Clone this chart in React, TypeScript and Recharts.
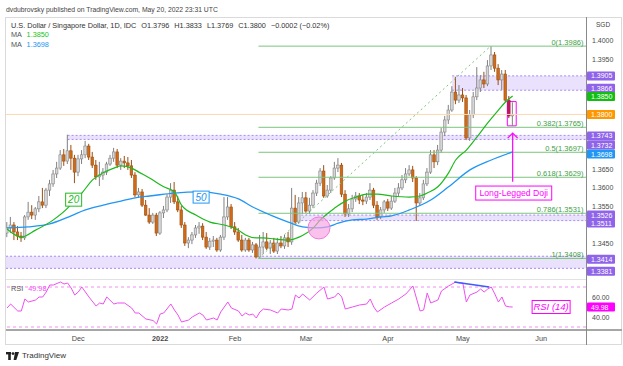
import React from "react";
import { ComposedChart, Bar, Line, XAxis, YAxis, ReferenceLine, ReferenceArea, ReferenceDot } from "recharts";

const FONT = "'Liberation Sans', Arial, sans-serif";

// daily candles, Nov 3 2021 .. May 20 2022: [open, high, low, close]
const candles: number[][] = [
  [1.3477, 1.3507, 1.3466, 1.3491], [1.3491, 1.3521, 1.3477, 1.3499], [1.3499, 1.3507, 1.3458, 1.348],
  [1.348, 1.3496, 1.3458, 1.3469], [1.3469, 1.348, 1.3453, 1.3464], [1.3464, 1.3526, 1.3458, 1.3521],
  [1.3521, 1.3562, 1.3513, 1.3534], [1.3534, 1.3553, 1.3515, 1.3526], [1.3526, 1.3548, 1.3513, 1.3543],
  [1.3543, 1.3578, 1.3534, 1.3562], [1.3562, 1.36, 1.3545, 1.3553], [1.3553, 1.36, 1.3545, 1.3594],
  [1.3594, 1.3622, 1.3578, 1.3611], [1.3611, 1.3649, 1.3603, 1.3638], [1.3638, 1.3671, 1.3627, 1.3654],
  [1.3654, 1.3703, 1.3649, 1.369], [1.369, 1.3706, 1.366, 1.3673], [1.3673, 1.3745, 1.3665, 1.3701],
  [1.3701, 1.3717, 1.3649, 1.3681], [1.3681, 1.369, 1.3613, 1.3643], [1.3643, 1.369, 1.3632, 1.3679],
  [1.3679, 1.3703, 1.3665, 1.369], [1.369, 1.3728, 1.3681, 1.3714], [1.3714, 1.372, 1.3676, 1.3684],
  [1.3684, 1.3698, 1.3654, 1.3662], [1.3662, 1.3676, 1.3622, 1.363], [1.363, 1.3671, 1.3605, 1.3635],
  [1.3635, 1.3654, 1.3622, 1.3643], [1.3643, 1.3671, 1.3635, 1.3665], [1.3665, 1.369, 1.366, 1.3681],
  [1.3681, 1.3709, 1.3671, 1.3698], [1.3698, 1.3706, 1.3654, 1.3662], [1.3662, 1.3681, 1.3649, 1.3673],
  [1.3673, 1.3687, 1.3654, 1.3668], [1.3668, 1.3684, 1.3649, 1.366], [1.366, 1.3676, 1.3627, 1.3635],
  [1.3635, 1.3643, 1.3575, 1.3581], [1.3581, 1.36, 1.3573, 1.3589], [1.3589, 1.3597, 1.3548, 1.3553],
  [1.3553, 1.3567, 1.3524, 1.3526], [1.3526, 1.3545, 1.3502, 1.3507], [1.3507, 1.3532, 1.3502, 1.3526],
  [1.3526, 1.3532, 1.3469, 1.3477], [1.3477, 1.3537, 1.3472, 1.3532], [1.3532, 1.3551, 1.3518, 1.354],
  [1.354, 1.3583, 1.3534, 1.3575], [1.3575, 1.3613, 1.3559, 1.3594], [1.3594, 1.3616, 1.3556, 1.3562],
  [1.3562, 1.3578, 1.3534, 1.354], [1.354, 1.3551, 1.3491, 1.3499], [1.3499, 1.3507, 1.3442, 1.345],
  [1.345, 1.3466, 1.3436, 1.3458], [1.3458, 1.348, 1.3447, 1.3472], [1.3472, 1.3499, 1.3464, 1.3491],
  [1.3491, 1.3507, 1.3475, 1.3496], [1.3496, 1.3504, 1.3458, 1.3466], [1.3466, 1.348, 1.3434, 1.3439],
  [1.3439, 1.3464, 1.3431, 1.3455], [1.3455, 1.3469, 1.3439, 1.3458], [1.3458, 1.3464, 1.3426, 1.3431],
  [1.3431, 1.3472, 1.3426, 1.3466], [1.3466, 1.3575, 1.3458, 1.3521], [1.3521, 1.3575, 1.3513, 1.3548],
  [1.3548, 1.3556, 1.3488, 1.3494], [1.3494, 1.3507, 1.3472, 1.348], [1.348, 1.3491, 1.3453, 1.3458],
  [1.3458, 1.3472, 1.3426, 1.3431], [1.3431, 1.3464, 1.3426, 1.3458], [1.3458, 1.3464, 1.3426, 1.3431],
  [1.3431, 1.3453, 1.3423, 1.3445], [1.3445, 1.345, 1.3408, 1.3412], [1.3412, 1.3472, 1.3409, 1.3439],
  [1.3439, 1.348, 1.342, 1.3453], [1.3453, 1.3477, 1.3431, 1.3436], [1.3436, 1.3458, 1.342, 1.345],
  [1.345, 1.3464, 1.3423, 1.3428], [1.3428, 1.3464, 1.342, 1.345], [1.345, 1.3469, 1.3436, 1.3442],
  [1.3442, 1.3472, 1.3434, 1.3464], [1.3464, 1.348, 1.3439, 1.3453], [1.3453, 1.36, 1.3445, 1.3545],
  [1.3545, 1.3581, 1.3502, 1.3507], [1.3507, 1.3575, 1.3502, 1.3559], [1.3559, 1.3589, 1.3529, 1.3573],
  [1.3573, 1.3589, 1.3532, 1.3537], [1.3537, 1.3573, 1.3529, 1.3553], [1.3553, 1.3594, 1.3545, 1.3586],
  [1.3586, 1.3622, 1.3578, 1.3613], [1.3613, 1.3654, 1.3605, 1.3646], [1.3646, 1.3662, 1.3573, 1.3578],
  [1.3578, 1.3608, 1.3573, 1.3594], [1.3594, 1.3632, 1.3586, 1.3627], [1.3627, 1.3671, 1.3622, 1.3654],
  [1.3654, 1.3681, 1.3643, 1.3662], [1.3662, 1.3668, 1.3575, 1.3583], [1.3583, 1.3594, 1.3521, 1.3529],
  [1.3529, 1.3556, 1.3521, 1.3543], [1.3543, 1.3581, 1.3534, 1.357], [1.357, 1.3589, 1.3562, 1.3578],
  [1.3578, 1.3586, 1.3556, 1.3567], [1.3567, 1.3581, 1.3553, 1.3564], [1.3564, 1.3586, 1.3556, 1.3575],
  [1.3575, 1.3613, 1.3567, 1.3594], [1.3594, 1.36, 1.3545, 1.3553], [1.3553, 1.3564, 1.3513, 1.3521],
  [1.3521, 1.3548, 1.3515, 1.354], [1.354, 1.3567, 1.3532, 1.3562], [1.3562, 1.357, 1.3537, 1.3545],
  [1.3545, 1.3578, 1.354, 1.3564], [1.3564, 1.36, 1.3559, 1.3586], [1.3586, 1.3613, 1.3578, 1.36],
  [1.36, 1.3635, 1.3594, 1.3622], [1.3622, 1.3654, 1.3613, 1.3638], [1.3638, 1.3662, 1.3632, 1.3649],
  [1.3649, 1.366, 1.3616, 1.3627], [1.3627, 1.3632, 1.351, 1.3559], [1.3559, 1.3586, 1.3551, 1.3573],
  [1.3573, 1.3622, 1.3567, 1.3611], [1.3611, 1.3654, 1.3605, 1.3643], [1.3643, 1.3703, 1.3638, 1.369],
  [1.369, 1.3703, 1.3654, 1.3671], [1.3671, 1.3717, 1.3662, 1.3703], [1.3703, 1.3763, 1.3695, 1.3752],
  [1.3752, 1.3796, 1.3741, 1.3785], [1.3785, 1.3826, 1.3774, 1.3812], [1.3812, 1.3877, 1.3807, 1.3861],
  [1.3861, 1.3902, 1.3828, 1.3839], [1.3839, 1.388, 1.3831, 1.3853], [1.3853, 1.3872, 1.3834, 1.3845],
  [1.3845, 1.3853, 1.373, 1.3736], [1.3736, 1.3812, 1.3728, 1.3799], [1.3799, 1.3861, 1.379, 1.3848],
  [1.3848, 1.3929, 1.3839, 1.3872], [1.3872, 1.3907, 1.3861, 1.3894], [1.3894, 1.3916, 1.3872, 1.3883],
  [1.3883, 1.3948, 1.3877, 1.3932], [1.3932, 1.3986, 1.3921, 1.3962], [1.3962, 1.397, 1.3916, 1.3926],
  [1.3926, 1.3937, 1.388, 1.3894], [1.3894, 1.3921, 1.3867, 1.391], [1.391, 1.3921, 1.3834, 1.3839],
  [1.3839, 1.385, 1.379, 1.3796], [1.3796, 1.3833, 1.3769, 1.38],
];

// [bar index, value]
const ma20Pts = [
  [0, 1.3488], [4, 1.3466], [8, 1.3485], [13, 1.3513], [17, 1.3545], [19, 1.3567], [21, 1.3586], [24, 1.3622],
  [27, 1.3641], [30, 1.3654], [32, 1.366], [35, 1.3654], [37, 1.3643], [40, 1.3627], [44, 1.3603], [47, 1.3589],
  [49, 1.3553], [53, 1.3526], [57, 1.3507], [61, 1.3499], [65, 1.3485], [67, 1.3472], [70, 1.3464], [72, 1.3464],
  [75, 1.3461], [79, 1.3458], [82, 1.3466], [86, 1.3491], [88, 1.3513], [92, 1.3545], [95, 1.3564], [98, 1.3575],
  [101, 1.3583], [104, 1.3583], [108, 1.3578], [113, 1.3575], [116, 1.3578], [118, 1.3586], [121, 1.3603],
  [124, 1.3641], [126, 1.3676], [129, 1.3703], [132, 1.3739], [135, 1.3777], [138, 1.3812], [140, 1.3834], [142, 1.385],
];
const ma50Pts = [
  [0, 1.3491], [6, 1.3494], [12, 1.3502], [18, 1.3524], [22, 1.354], [27, 1.3553], [32, 1.3564], [37, 1.3575],
  [40, 1.3578], [47, 1.3586], [54, 1.3589], [60, 1.3583], [65, 1.357], [69, 1.3548], [74, 1.3526], [79, 1.3507],
  [83, 1.3494], [87, 1.3491], [90, 1.3494], [93, 1.3504], [97, 1.3513], [101, 1.3515], [105, 1.3521], [108, 1.3524],
  [113, 1.354], [119, 1.3567], [124, 1.3603], [130, 1.3649], [136, 1.3676], [142, 1.3698],
];
const rsiPts = [
  [0, 49], [1, 53], [3, 46], [4, 46], [5, 58], [6, 55], [8, 57], [9, 60], [10, 60], [11, 65], [12, 72], [13, 72],
  [15, 75], [16, 73], [17, 74], [18, 69], [19, 62], [20, 65], [21, 70], [23, 60], [25, 51], [26, 54], [27, 53],
  [28, 60], [30, 53], [31, 54], [33, 54], [35, 49], [36, 44], [37, 44], [39, 38], [41, 36.5], [42, 33], [43, 43],
  [44, 44], [46, 53], [47, 47], [48, 42], [49, 35], [51, 37], [52, 40], [54, 44], [55, 42], [56, 37], [58, 39],
  [59, 37], [60, 45], [62, 55], [63, 49], [65, 46], [66, 41], [67, 44], [68, 42], [69, 43], [70, 39], [71, 45],
  [72, 48], [74, 47], [76, 44], [77, 48], [79, 47], [80, 48], [81, 62], [82, 59], [83, 63], [85, 57], [87, 64],
  [89, 70], [90, 58], [92, 60], [93, 64], [94, 60], [95, 48], [97, 50], [99, 52], [101, 53], [102, 58], [103, 50],
  [104, 45], [106, 50], [108, 54], [110, 58], [112, 63], [114, 71], [116, 46], [117, 47], [118, 64], [119, 54],
  [121, 57], [122, 66], [124, 71], [126, 75], [127, 74], [128, 74], [129, 55], [130, 62], [132, 65], [133, 68],
  [134, 65], [135, 68], [136, 70], [137, 63], [138, 55], [139, 60], [140, 51], [141, 50.2], [142, 49.98],
];

const monthTicks = [20, 43, 64, 84, 107, 128, 150];
const monthLabels = ["Dec", "2022", "Feb", "Mar", "Apr", "May", "Jun"];
const priceTicks = [1.34, 1.345, 1.35, 1.355, 1.36, 1.365, 1.37, 1.375, 1.38, 1.385, 1.39, 1.395, 1.4];
const hiddenTicks = [1.34, 1.35, 1.37, 1.375, 1.38, 1.385, 1.39];

const fibRatios = ["0", "0.382", "0.5", "0.618", "0.786", "1"];
const fibPrices = [1.3986, 1.3765, 1.3697, 1.3629, 1.3531, 1.3408];

const X_DOMAIN: [number, number] = [-0.3, 162.6];
const X_END = 162.6;

const data = candles.map(([o, h, l, c], i) => ({
  i, o, h, l, c, range: [l, h], ma20: null as number | null, ma50: null as number | null, rsi: null as number | null,
}));
ma20Pts.forEach(([i, v]) => (data[i].ma20 = v));
ma50Pts.forEach(([i, v]) => (data[i].ma50 = v));
rsiPts.forEach(([i, v]) => (data[i].rsi = v));

const PURPLE = "#8f63ea";

function Candle(props: any) {
  const { x, y, width, height, payload } = props;
  if (!payload || x == null) return <g />;
  const { o, h, l, c } = payload;
  const top = Math.min(y, y + height);
  const hh = Math.abs(height);
  const span = h - l || 1;
  const py = (v: number) => top + ((h - v) / span) * hh;
  const cx = x + width / 2;
  const up = c >= o;
  const special = payload.i === 141;
  const body = special ? "#c2185b" : up ? "#d6d6d6" : "#d06a17";
  const edge = special ? "#a0124a" : up ? "#858585" : "#9c4f10";
  const yo = py(o), yc = py(c);
  return (
    <g>
      <line x1={cx} x2={cx} y1={top} y2={top + hh} stroke={up ? "#808080" : edge} strokeWidth={1} />
      <rect x={cx - 1.3} y={Math.min(yo, yc)} width={2.6} height={Math.max(Math.abs(yc - yo), 0.8)} fill={body} stroke={edge} strokeWidth={0.6} />
    </g>
  );
}

function Zone(p: any) {
  const { x, y, width, height } = p;
  return (
    <g>
      <rect x={x} y={y} width={width} height={height} fill="#e6dcfb" fillOpacity={0.85} />
      <line x1={x} x2={x + width} y1={y} y2={y} stroke="#a88cf0" strokeDasharray="2 2" />
      <line x1={x} x2={x + width} y1={y + height} y2={y + height} stroke="#a88cf0" strokeDasharray="2 2" />
    </g>
  );
}

function PriceTick(props: any) {
  const { x, y, payload } = props;
  if (hiddenTicks.some((t) => Math.abs(t - payload.value) < 1e-7)) return <g />;
  return (
    <text x={x} y={y} dy={2.5} fontSize={7} fill="#4a4a4a" fontFamily={FONT}>
      {payload.value.toFixed(4)}
    </text>
  );
}

function RsiTick(props: any) {
  const { x, y, payload } = props;
  return (
    <text x={x} y={y} dy={2.5} fontSize={7} fill="#4a4a4a" fontFamily={FONT}>
      {payload.value.toFixed(2)}
    </text>
  );
}

function TimeTick(props: any) {
  const { x, y, payload } = props;
  const label = monthLabels[monthTicks.indexOf(payload.value)];
  return (
    <text x={x} y={y + 5} textAnchor="middle" fontSize={7.3} fill="#4a4a4a" fontWeight={label === "2022" ? 700 : 400} fontFamily={FONT}>
      {label}
    </text>
  );
}

const axisTag = (text: string, bg: string, dy = 0) => (p: any) => (
  <g>
    <rect x={p.cx + 1} y={p.cy + dy - 4.5} width={28} height={9} rx={1} fill={bg} />
    <text x={p.cx + 5} y={p.cy + dy + 2.6} fontSize={7} fill="#fff" fontFamily={FONT}>{text}</text>
  </g>
);

const fibLabel = (text: string) => (p: any) => (
  <text x={p.cx - 2.5} y={p.cy - 1.5} textAnchor="end" fontSize={7.5} fill="#43a047" fontFamily={FONT}>{text}</text>
);

const maBadge = (text: string, color: string, w: number, h: number) => (p: any) => (
  <g>
    <rect x={p.cx - w / 2} y={p.cy - h / 2} width={w} height={h} fill="#fff" stroke={color} strokeWidth={1} />
    <text x={p.cx} y={p.cy + 3.6} textAnchor="middle" fontSize={10} fontStyle="italic" fill={color} fontFamily={FONT}>{text}</text>
  </g>
);

const textBox = (text: string, w: number, h: number, italic: boolean, size: number) => (p: any) => (
  <g>
    <rect x={p.cx - w / 2} y={p.cy - h / 2} width={w} height={h} fill="#fff" stroke="#f0f" strokeWidth={1} />
    <text x={p.cx} y={p.cy + size * 0.36} textAnchor="middle" fontSize={size} fontStyle={italic ? "italic" : "normal"} fill="#f0f" fontFamily={FONT}>{text}</text>
  </g>
);

function Arrow(p: any) {
  const { x1, y1, x2, y2 } = p;
  return (
    <g stroke="#f0f" strokeWidth={1.2} fill="none">
      <line x1={x1} y1={y1} x2={x2} y2={y2} />
      <polyline points={`${x2 - 5},${y2 + 5} ${x2},${y2} ${x2 + 5},${y2 + 5}`} />
    </g>
  );
}

export default function App() {
  return (
    <div style={{ position: "absolute", left: 0, top: 0, width: 623, height: 366, background: "#fff", overflow: "hidden", fontFamily: FONT }}>
      <div style={{ position: "absolute", left: 6, top: 4.5, fontSize: 6.8, lineHeight: "9px", color: "#444", whiteSpace: "nowrap" }}>
        dvdubrovsky published on TradingView.com, May 20, 2022 23:31 UTC
      </div>

      <div style={{ position: "absolute", left: 0, top: 17 }}>
        <ComposedChart width={623} height={262} data={data} margin={{ top: 0, right: 5, bottom: 0, left: 6 }}>
          <XAxis type="number" dataKey="i" domain={X_DOMAIN} allowDataOverflow hide />
          <YAxis orientation="right" domain={[1.3352, 1.40653]} allowDataOverflow ticks={priceTicks} width={32}
            axisLine={false} tickLine={false} tickSize={4} tick={<PriceTick />} interval={0} />

          <ReferenceLine y={1.38} stroke="#fcd9b0" strokeWidth={1} />
          <ReferenceArea x1={X_DOMAIN[0]} x2={X_END} y1={1.3381} y2={1.3414} shape={<Zone />} />
          <ReferenceArea x1={81.5} x2={X_END} y1={1.3511} y2={1.3526} shape={<Zone />} />
          <ReferenceArea x1={17} x2={X_END} y1={1.3732} y2={1.3743} shape={<Zone />} />
          <ReferenceArea x1={125} x2={X_END} y1={1.3866} y2={1.3905} shape={<Zone />} />

          {fibPrices.map((p) => (
            <ReferenceLine key={p} segment={[{ x: 70.6, y: p }, { x: X_END, y: p }]} stroke="#7cc47f" strokeWidth={1} />
          ))}
          <ReferenceLine segment={[{ x: 70.6, y: 1.3408 }, { x: 135.8, y: 1.3986 }]} stroke="#7cc47f" strokeDasharray="2 3" />

          <Bar dataKey="range" barSize={3} shape={<Candle />} isAnimationActive={false} />
          <Line dataKey="ma50" type="monotone" stroke="#2196f3" strokeWidth={1.3} dot={false} connectNulls isAnimationActive={false} />
          <Line dataKey="ma20" type="monotone" stroke="#1db91d" strokeWidth={1.2} dot={false} connectNulls isAnimationActive={false} />

          <ReferenceDot x={87.6} y={1.3491} r={11} fill="#f9a0e4" fillOpacity={0.65} stroke="#ee7fd8" strokeWidth={1} />
          <ReferenceDot x={18.7} y={1.3568} r={1} shape={maBadge("20", "#22bb22", 16, 13)} />
          <ReferenceDot x={54.5} y={1.3575} r={1} shape={maBadge("50", "#2196f3", 16, 12)} />

          <ReferenceArea x1={140.5} x2={143} y1={1.3769} y2={1.3835} fill="none" stroke="#f0f" strokeWidth={1} />
          <ReferenceLine segment={[{ x: 142, y: 1.3617 }, { x: 142, y: 1.3749 }]} shape={<Arrow />} />
          <ReferenceDot x={142.3} y={1.3586} r={1} shape={textBox("Long-Legged Doji", 76, 14, false, 8.7)} />

          {fibPrices.map((p, k) => (
            <ReferenceDot key={"l" + p} x={X_END} y={p} r={1} shape={fibLabel(`${fibRatios[k]}(${p.toFixed(4)})`)} />
          ))}

          <ReferenceDot x={X_END} y={1.3905} r={1} shape={axisTag("1.3905", PURPLE)} />
          <ReferenceDot x={X_END} y={1.3866} r={1} shape={axisTag("1.3866", PURPLE, -2)} />
          <ReferenceDot x={X_END} y={1.385} r={1} shape={axisTag("1.3850", "#13be13", 0.5)} />
          <ReferenceDot x={X_END} y={1.38} r={1} shape={axisTag("1.3800", "#ff9800")} />
          <ReferenceDot x={X_END} y={1.3743} r={1} shape={axisTag("1.3743", PURPLE, 0.5)} />
          <ReferenceDot x={X_END} y={1.3732} r={1} shape={axisTag("1.3732", PURPLE, 5.5)} />
          <ReferenceDot x={X_END} y={1.3698} r={1} shape={axisTag("1.3698", "#2196f3", 2)} />
          <ReferenceDot x={X_END} y={1.3526} r={1} shape={axisTag("1.3526", PURPLE)} />
          <ReferenceDot x={X_END} y={1.3511} r={1} shape={axisTag("1.3511", PURPLE, 2.5)} />
          <ReferenceDot x={X_END} y={1.3414} r={1} shape={axisTag("1.3414", PURPLE, 3)} />
          <ReferenceDot x={X_END} y={1.3381} r={1} shape={axisTag("1.3381", PURPLE, 3)} />
        </ComposedChart>
      </div>

      <div style={{ position: "absolute", left: 0, top: 280 }}>
        <ComposedChart width={623} height={65} data={data} margin={{ top: 0, right: 5, bottom: 0, left: 6 }}>
          <XAxis type="number" dataKey="i" domain={X_DOMAIN} allowDataOverflow ticks={monthTicks} interval={0} height={15}
            axisLine={false} tickLine={false} tickSize={4} tick={<TimeTick />} />
          <YAxis orientation="right" domain={[27, 77]} allowDataOverflow ticks={[40, 60]} width={32}
            axisLine={false} tickLine={false} tickSize={4} tick={<RsiTick />} interval={0} />
          <ReferenceLine y={70} stroke="#f08ff0" strokeDasharray="3 3" />
          <ReferenceLine y={30} stroke="#f08ff0" strokeDasharray="3 3" />
          <Line dataKey="rsi" type="linear" stroke="#f04ff0" strokeWidth={1} dot={false} connectNulls isAnimationActive={false} />
          <ReferenceLine segment={[{ x: 125.6, y: 75 }, { x: 135.4, y: 70 }]} stroke="#3d5afe" strokeWidth={1.3} />
          <ReferenceDot x={152.8} y={50} r={1} shape={textBox("RSI (14)", 38, 13, true, 9.5)} />
          <ReferenceDot x={X_END} y={49.98} r={1} shape={axisTag("49.98", "#f0f")} />
        </ComposedChart>
      </div>

      {/* frame and pane separators */}
      <div style={{ position: "absolute", left: 5, top: 17, width: 617, height: 328, border: "1px solid #dadada", boxSizing: "border-box" }} />
      <div style={{ position: "absolute", left: 6, top: 279, width: 580, height: 1, background: "#e2e2e2" }} />
      <div style={{ position: "absolute", left: 6, top: 329, width: 616, height: 2, background: "#a6a6a6" }} />
      <div style={{ position: "absolute", left: 586, top: 17, width: 1, height: 328, background: "#8a8a8a" }} />

      <div style={{ position: "absolute", left: 11, top: 20.5, fontSize: 7.3, lineHeight: "9px", color: "#333", whiteSpace: "nowrap" }}>
        U.S. Dollar / Singapore Dollar, 1D, IDC
        <span style={{ marginLeft: 5 }}>O1.3796</span>
        <span style={{ marginLeft: 5 }}>H1.3833</span>
        <span style={{ marginLeft: 5 }}>L1.3769</span>
        <span style={{ marginLeft: 5 }}>C1.3800</span>
        <span style={{ marginLeft: 5 }}>−0.0002 (−0.02%)</span>
      </div>
      <div style={{ position: "absolute", left: 11, top: 30, fontSize: 7.3, lineHeight: "9px", color: "#555", whiteSpace: "nowrap" }}>
        MA <span style={{ marginLeft: 3, color: "#22c322" }}>1.3850</span>
      </div>
      <div style={{ position: "absolute", left: 11, top: 39.5, fontSize: 7.3, lineHeight: "9px", color: "#555", whiteSpace: "nowrap" }}>
        MA <span style={{ marginLeft: 3, color: "#2196f3" }}>1.3698</span>
      </div>
      <div style={{ position: "absolute", left: 11, top: 283.5, fontSize: 7.3, lineHeight: "9px", color: "#555", whiteSpace: "nowrap" }}>
        RSI <span style={{ marginLeft: 3, color: "#f04ff0" }}>49.98</span>
      </div>
      <div style={{ position: "absolute", left: 596, top: 20, fontSize: 6.5, lineHeight: "9px", color: "#444" }}>SGD</div>

      <div style={{ position: "absolute", left: 6, top: 351, display: "flex", alignItems: "center", gap: 3 }}>
        <svg width={13} height={8} viewBox="0 0 13 8">
          <rect x={0} y={0} width={5} height={2.4} fill="#222" />
          <rect x={2.2} y={0} width={2.6} height={8} fill="#222" />
          <circle cx={7} cy={1.6} r={1.4} fill="#222" />
          <polygon points="9,0 13,0 10.3,8 7.6,8" fill="#222" />
        </svg>
        <span style={{ fontSize: 8, color: "#333" }}>TradingView</span>
      </div>
    </div>
  );
}
